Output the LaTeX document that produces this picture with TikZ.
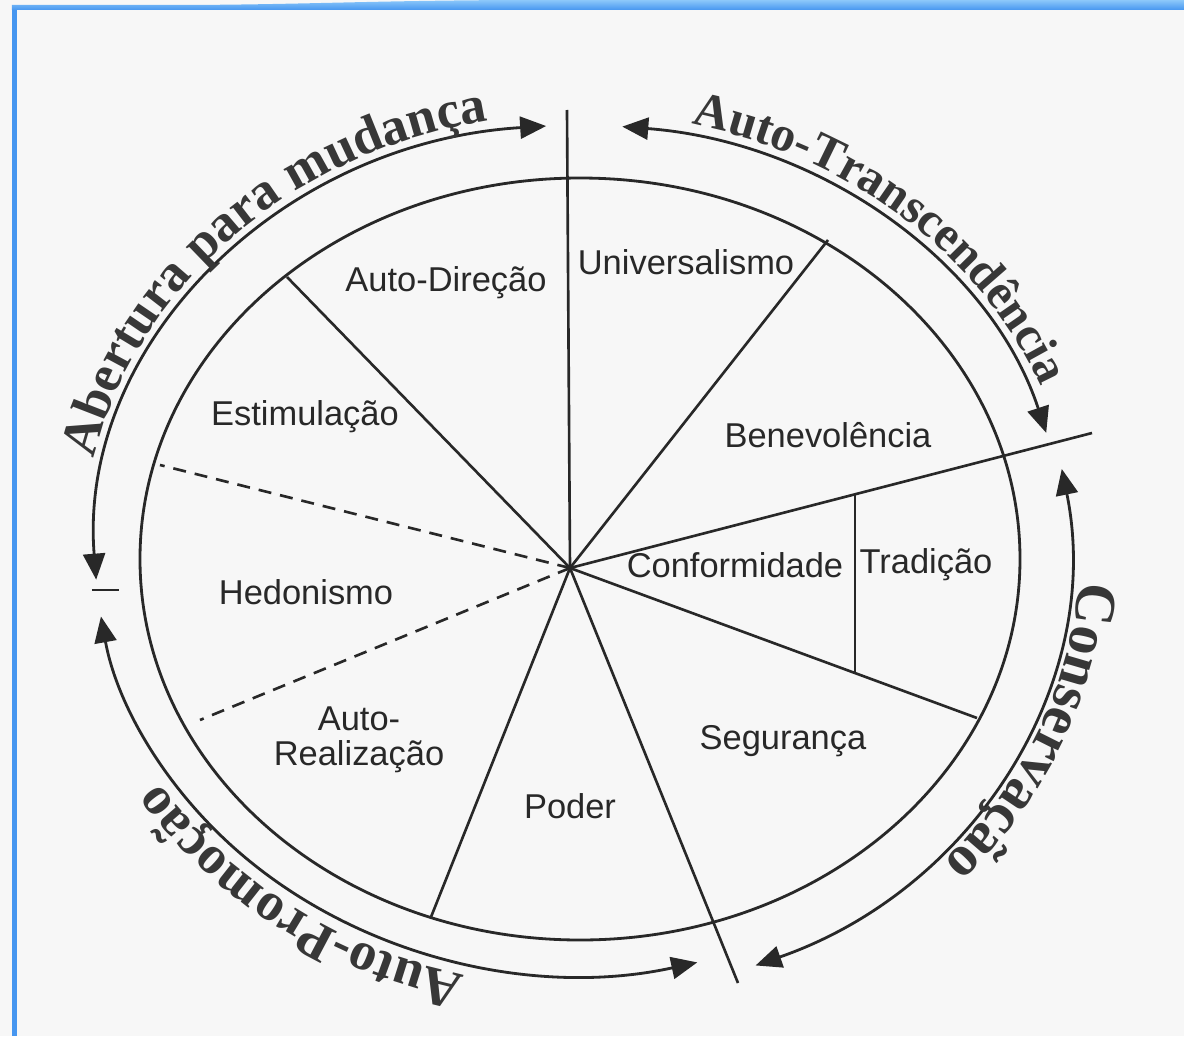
\documentclass[tikz,border=0pt]{standalone}
\usepackage{fontspec}
\setmainfont{Liberation Sans}
\newfontfamily\rimfont{Liberation Serif}
\usetikzlibrary{arrows.meta,decorations.text}

\definecolor{ink}{RGB}{40,40,40}
\definecolor{rimink}{RGB}{55,55,55}
\definecolor{paper}{RGB}{247,247,247}
\definecolor{frameblue}{RGB}{70,150,240}
\definecolor{frametop}{RGB}{140,200,250}

\newcommand\rimfmt{\rimfont\bfseries\color{rimink}}

\begin{document}
\begin{tikzpicture}[
    font=\fontsize{9.8}{10}\selectfont,
    line/.style={ink,line width=0.8pt},
    spoke/.style={ink,line width=0.75pt},
    split/.style={ink,line width=0.75pt,dash pattern=on 1.3mm off 0.9mm},
    arrowarc/.style={ink,line width=0.8pt,
        {Triangle[length=2.6mm,width=2.2mm]}-{Triangle[length=2.6mm,width=2.2mm]}},
    value/.style={text=ink,inner sep=1pt},
    rim/.style={decorate,decoration={text along path,text align=center,text={#1}}}
]

% === Page and frame ===
\useasboundingbox (-5.80,-4.77) rectangle (6.04,5.59);
\fill[paper] (-5.80,-4.77) rectangle (6.04,5.59);
\fill[frameblue] (-5.68,-4.77) rectangle (-5.63,5.52);
\shade[top color=frametop,bottom color=frameblue]
    (-5.68,5.49) -- (6.04,5.49) -- (6.04,5.59) -- (-0.40,5.59)
    .. controls (-2.0,5.59) and (-2.8,5.54) .. (-4.10,5.54) -- (-5.68,5.54) -- cycle;

% === Circle ===
\draw[line] (0,0) ellipse (4.40 and 3.81);

% === Spokes ===
\coordinate (hub) at (-0.10,-0.09);
\coordinate (axN) at (-0.13,4.49);   % top, past both circles
\coordinate (axE) at (5.12,1.26);    % right, past both circles
\coordinate (axS) at (1.58,-4.24);   % bottom, past both circles
\coordinate (cDE) at (-2.93,2.82);   % Auto-Direcao | Estimulacao
\coordinate (cUB) at (2.48,3.19);    % Universalismo | Benevolencia
\coordinate (cCS) at (3.97,-1.59);   % Conformidade | Seguranca
\coordinate (cRP) at (-1.49,-3.58);  % Auto-Realizacao | Poder
\coordinate (dHi) at (-4.20,0.94);
\coordinate (dLo) at (-3.80,-1.61);
\coordinate (tTop) at (2.75,0.65);
\coordinate (tBot) at (2.75,-1.14);

\draw[spoke] (hub) -- (axN);
\draw[spoke] (hub) -- (axE);
\draw[spoke] (hub) -- (axS);
\draw[spoke] (hub) -- (cDE);
\draw[spoke] (hub) -- (cUB);
\draw[spoke] (hub) -- (cCS);
\draw[spoke] (hub) -- (cRP);
\draw[spoke] (tTop) -- (tBot);
\draw[split] (hub) -- (dHi);
\draw[split] (hub) -- (dLo);

% === Values ===
\node[value] (Univ) at (1.06,2.97) {Universalismo};
\node[value] (AutoDir) at (-1.34,2.76) {Auto-Direção};
\node[value] (Estim) at (-2.75,1.42) {Estimulação};
\node[value] (Benev) at (2.48,1.24) {Benevolência};
\node[value] (Conf) at (1.55,-0.06) {Conformidade};
\node[value] (Trad) at (3.46,-0.06) {Tradição};
\node[value] (Hedon) at (-2.74,-0.33) {Hedonismo};
\node[value,align=center] (AutoReal) at (-2.21,-1.81) {Auto-\\Realização};
\node[value] (Seg) at (2.03,-1.82) {Segurança};
\node[value] (Poder) at (-0.10,-2.47) {Poder};

% === Outer arrows ===
\draw[arrowarc] (0,0.09) ++(94:4.85 and 4.25)
    arc[start angle=94,end angle=184,x radius=4.85,y radius=4.25];
\draw[arrowarc] (0,0.09) ++(85:4.85 and 4.25)
    arc[start angle=85,end angle=16,x radius=4.85,y radius=4.25];
\draw[arrowarc] (0,0.09) ++(10.5:4.90 and 4.45)
    arc[start angle=10.5,end angle=-69,x radius=4.90,y radius=4.45];
\draw[arrowarc] (0,0.09) ++(-76:4.85 and 4.25)
    arc[start angle=-76,end angle=-171,x radius=4.85,y radius=4.25];

% left mark between the two arrows
\coordinate (mL) at (-4.88,-0.31);
\coordinate (mR) at (-4.61,-0.31);
\draw[line] (mL) -- (mR);

% === Higher order labels ===
\path[rim={|\rimfmt\fontsize{15}{15}\selectfont|Abertura para mudança}]
    (0,0.09) ++(180:4.97 and 4.37) arc[start angle=180,end angle=90,x radius=4.97,y radius=4.37];
\path[rim={|\rimfmt\fontsize{14}{14}\selectfont|Auto-Transcendência}]
    (0,0.09) ++(85:4.97 and 4.37) arc[start angle=85,end angle=13,x radius=4.97,y radius=4.37];
\path[rim={|\rimfmt\fontsize{16.5}{16.5}\selectfont|Conservação}]
    (0,0.09) ++(3:5.00 and 4.55) arc[start angle=3,end angle=-50,x radius=5.00,y radius=4.55];
\path[rim={|\rimfmt\fontsize{15.5}{15.5}\selectfont|Auto-Promoção}]
    (0,0.09) ++(-96:4.97 and 4.37) arc[start angle=-96,end angle=-156,x radius=4.97,y radius=4.37];

\end{tikzpicture}
\end{document}
